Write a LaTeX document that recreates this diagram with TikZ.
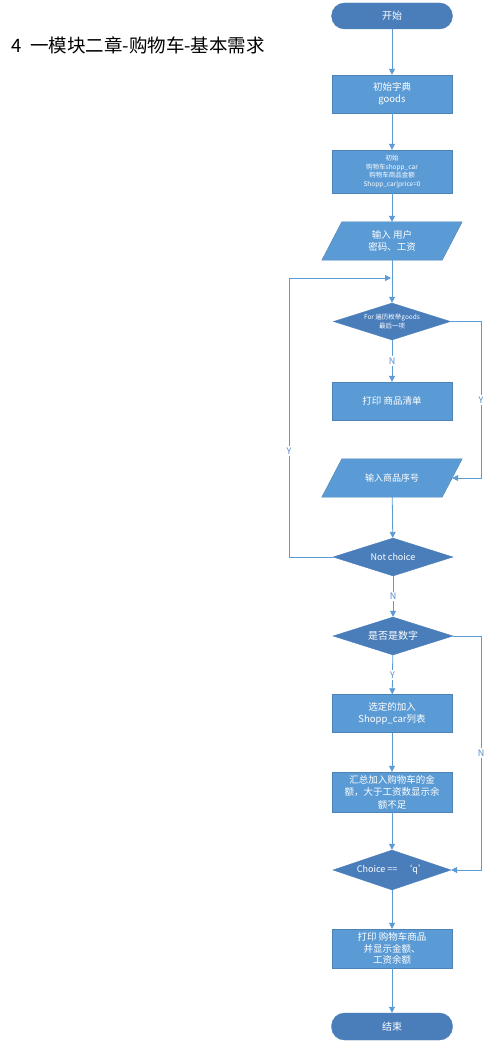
\documentclass[tikz,border=0pt]{standalone}
\usepackage{fontspec}
\setmainfont{Noto Sans CJK SC}
\usetikzlibrary{arrows.meta,shapes.geometric}
\definecolor{boxblue}{HTML}{5B9BD5}
\definecolor{darkblue}{HTML}{4A7EBB}
\definecolor{lineblue}{HTML}{5B9BD5}
\definecolor{lbltext}{HTML}{5A8CC8}
\tikzset{
  procbox/.style={rectangle, fill=boxblue, draw=boxblue!85!black, line width=0.4pt, minimum width=120pt, minimum height=38pt, inner sep=1pt, align=center, text=white, font=\fontsize{9.5}{12}\selectfont},
  termbox/.style={rectangle, rounded corners=13pt, fill=darkblue, draw=darkblue, minimum width=121pt, minimum height=26pt, inner sep=1pt, text=white, font=\fontsize{10}{12}\selectfont},
  decbox/.style={diamond, aspect=3.1, fill=darkblue, draw=darkblue, inner sep=0pt, align=center, text=white, font=\fontsize{9}{11}\selectfont},
  iobox/.style={rectangle, minimum width=120pt, minimum height=38pt, inner sep=1pt, align=center, text=white, font=\fontsize{9.5}{12}\selectfont},
  iofill/.style={fill=boxblue, draw=boxblue!85!black, line width=0.4pt},
  conn/.style={draw=lineblue, line width=0.8pt, -{Triangle[length=6pt,width=6pt]}},
  lbl/.style={fill=white, inner sep=1.5pt, text=lbltext, font=\fontsize{9}{11}\selectfont},
}
\begin{document}
\begin{tikzpicture}[x=1pt,y=-1pt]
\useasboundingbox (0,0) rectangle (490,1048);
\fill[white] (0,0) rectangle (490,1048);

\node[anchor=west, font=\fontsize{18.5}{22}\selectfont] (title) at (8,45) {4\ \ 一模块二章-购物车-基本需求};

\node[termbox] (start) at (392,16) {开始};
\node[procbox] (dict) at (392,94) {初始字典\\goods};
\node[procbox, minimum height=43pt, font=\fontsize{6.5}{8.5}\selectfont] (init) at (392,171.5) {初始\\购物车shopp\_car\\购物车商品金额\\Shopp\_car|price=0};
\node[iobox] (inp) at (392,241) {};
\path[iofill] ([xshift=10pt]inp.north west) -- ([xshift=10pt]inp.north east) -- ([xshift=-10pt]inp.south east) -- ([xshift=-10pt]inp.south west) -- cycle;
\node[iobox] at (inp.center) {输入 用户\\密码、工资};

\node[decbox, minimum width=117pt, minimum height=37pt, font=\fontsize{6.5}{8.5}\selectfont] (forD) at (392,321.5) {For 遍历枚举goods\\最后一项};
\node[procbox] (prt) at (392,401) {打印 商品清单};
\node[iobox] (inp2) at (392,478) {};
\path[iofill] ([xshift=10pt]inp2.north west) -- ([xshift=10pt]inp2.north east) -- ([xshift=-10pt]inp2.south east) -- ([xshift=-10pt]inp2.south west) -- cycle;
\node[iobox, font=\fontsize{9}{11}\selectfont] at (inp2.center) {输入商品序号};

\node[decbox, minimum width=120pt, minimum height=38pt] (notD) at (393,557) {Not choice};
\node[decbox, minimum width=120pt, minimum height=38pt, font=\fontsize{10}{12}\selectfont] (numD) at (393,636) {是否是数字};
\node[procbox] (sel) at (392,713.5) {选定的加入\\Shopp\_car列表};
\node[procbox, minimum height=40pt, font=\fontsize{9.5}{12.5}\selectfont] (sum) at (392,792) {汇总加入购物车的金\\额，大于工资数显示余\\额不足};
\node[decbox, minimum width=118pt, minimum height=40pt] (chD) at (392,870) {Choice ==\ \ \ ‘q’};
\node[procbox, minimum height=39pt, font=\fontsize{9.5}{11.5}\selectfont] (outp) at (392,948.5) {打印 购物车商品\\并显示金额、\\工资余额};
\node[termbox, minimum height=27pt] (finish) at (392,1026.5) {结束};

\coordinate (join) at (392,278);
\coordinate (lA) at (289,557);
\coordinate (lB) at (289,278);
\coordinate (r1A) at (481,321.5);
\coordinate (r1B) at (481,478);
\coordinate (r2A) at (481,636);
\coordinate (r2B) at (481,870);

\draw[conn] (start) -- (dict);
\draw[conn] (dict) -- (init);
\draw[conn] (init) -- (inp);
\draw[conn] (inp) -- (forD);
\draw[conn] (forD) -- node[lbl, pos=0.5] {N} (prt);
\draw[conn] (inp2) -- (notD);
\draw[conn] (notD) -- node[lbl, pos=0.5] {N} (numD);
\draw[conn] (numD) -- node[lbl, pos=0.5] {Y} (sel);
\draw[conn] (sel) -- (sum);
\draw[conn] (chD) -- (outp);
\draw[conn] (outp) -- (finish);
\draw[conn] (sum) -- (chD);

\draw[conn] (notD.west) -- (lA) -- node[lbl, pos=0.38] {Y} (lB) -- ([xshift=-1pt]join);
\draw[conn] (forD.east) -- (r1A) -- node[lbl, pos=0.5] {Y} (r1B) -- (inp2.east);
\draw[conn] (numD.east) -- (r2A) -- node[lbl, pos=0.5] {N} (r2B) -- (chD.east);
\end{tikzpicture}
\end{document}
